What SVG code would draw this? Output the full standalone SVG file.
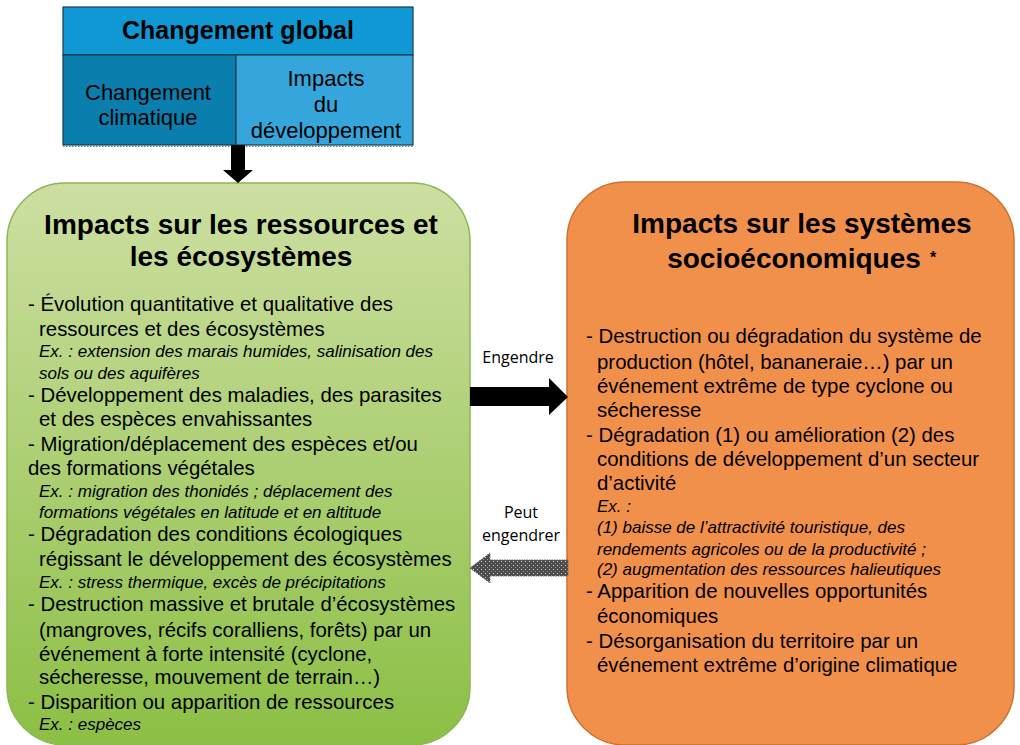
<svg xmlns="http://www.w3.org/2000/svg" width="1020" height="745" viewBox="0 0 1020 745">
<defs>
<linearGradient id="gGreen" x1="0" y1="0" x2="0" y2="1">
<stop offset="0" stop-color="#CDDFA2"/>
<stop offset="1" stop-color="#8CBF45"/>
</linearGradient>
<pattern id="dots" width="4" height="4" patternUnits="userSpaceOnUse">
<rect width="4" height="4" fill="#4A4A4A"/>
<rect x="1" y="1" width="1" height="1" fill="#D8D8D8"/>
<rect x="3" y="3" width="1" height="1" fill="#9A9A9A"/>
</pattern>
<style>
.t{font-family:"Liberation Sans",Arial,sans-serif;fill:#000}
.hd{font-weight:bold;font-size:28px}
.b{font-size:20.4px}
.i{font-size:17px;font-style:italic}
.top{font-size:22px}
.lbl{font-family:"Open Sans","DejaVu Sans",sans-serif;font-size:16px;fill:#000}
</style>
</defs>
<rect width="1020" height="745" fill="#fff"/>

<g id="changement-global">
<rect x="63" y="7" width="350" height="48" fill="#0F98D3" stroke="#1B3B4C" stroke-width="1.2"/>
<text class="t" x="238" y="39" text-anchor="middle" font-weight="bold" font-size="25">Changement global</text>
</g>
<g id="changement-climatique">
<rect x="63" y="55" width="173" height="90" fill="#0A7EAC" stroke="#1B3B4C" stroke-width="1.2"/>
<text class="t top" x="148" y="100" text-anchor="middle">Changement</text>
<text class="t top" x="148" y="125" text-anchor="middle">climatique</text>
</g>
<g id="impacts-developpement">
<rect x="236" y="55" width="177" height="90" fill="#35A6DC" stroke="#1B3B4C" stroke-width="1.2"/>
<text class="t top" x="326" y="86" text-anchor="middle">Impacts</text>
<text class="t top" x="326" y="112" text-anchor="middle">du</text>
<text class="t top" x="326" y="138" text-anchor="middle">développement</text>
</g>
<line x1="63" y1="146.5" x2="413" y2="146.5" stroke="#777" stroke-width="1.2" stroke-dasharray="1.5 1.5"/>

<g id="ressources-ecosystemes">
<rect x="7" y="183" width="463" height="562" rx="58" fill="url(#gGreen)" stroke="#8DB654" stroke-width="1.5"/>
<text class="t hd" x="241" y="234" text-anchor="middle">Impacts sur les ressources et</text>
<text class="t hd" x="241" y="266" text-anchor="middle">les écosystèmes</text>
<text class="t b" x="28" y="311">-  Évolution quantitative et qualitative des</text>
<text class="t b" x="39" y="336">ressources et des écosystèmes</text>
<text class="t i" x="39" y="357">Ex. : extension des marais humides, salinisation des</text>
<text class="t i" x="39" y="379">sols ou des aquifères</text>
<text class="t b" x="28" y="402">-  Développement des maladies, des parasites</text>
<text class="t b" x="39" y="426">et des espèces envahissantes</text>
<text class="t b" x="28" y="451">-  Migration/déplacement des espèces et/ou</text>
<text class="t b" x="28" y="475">des formations végétales</text>
<text class="t i" x="39" y="497">Ex. : migration des thonidés ; déplacement des</text>
<text class="t i" x="39" y="518">formations végétales en latitude et en altitude</text>
<text class="t b" x="28" y="541">- Dégradation des conditions écologiques</text>
<text class="t b" x="39" y="566">régissant le développement des écosystèmes</text>
<text class="t i" x="39" y="588">Ex. : stress thermique, excès de précipitations</text>
<text class="t b" x="28" y="611">-  Destruction massive et brutale d’écosystèmes</text>
<text class="t b" x="39" y="637">(mangroves, récifs coralliens, forêts) par un</text>
<text class="t b" x="39" y="661">événement à forte intensité (cyclone,</text>
<text class="t b" x="39" y="684">sécheresse, mouvement de terrain…)</text>
<text class="t b" x="28" y="709">-  Disparition ou apparition de ressources</text>
<text class="t i" x="39" y="730">Ex. : espèces</text>
</g>

<g id="systemes-socioeconomiques">
<rect x="567" y="182" width="447" height="563" rx="58" fill="#F0904B" stroke="#CB7233" stroke-width="1.5"/>
<text class="t hd" x="802" y="233" text-anchor="middle">Impacts sur les systèmes</text>
<text class="t hd" x="794" y="268" text-anchor="middle">socioéconomiques</text>
<text class="t" x="930" y="263" font-size="16" font-weight="bold">*</text>
<text class="t b" x="586" y="343">-  Destruction ou dégradation du système de</text>
<text class="t b" x="597" y="369">production (hôtel, bananeraie…) par un</text>
<text class="t b" x="597" y="393">événement extrême de type cyclone ou</text>
<text class="t b" x="597" y="417">sécheresse</text>
<text class="t b" x="586" y="442">-  Dégradation (1) ou amélioration (2) des</text>
<text class="t b" x="597" y="466">conditions de développement d’un secteur</text>
<text class="t b" x="597" y="490">d’activité</text>
<text class="t i" x="597" y="512">Ex. :</text>
<text class="t i" x="597" y="533">(1) baisse de l’attractivité touristique, des</text>
<text class="t i" x="597" y="555">rendements agricoles ou de la productivité ;</text>
<text class="t i" x="597" y="575">(2) augmentation des ressources halieutiques</text>
<text class="t b" x="586" y="598">-  Apparition de nouvelles opportunités</text>
<text class="t b" x="597" y="623">économiques</text>
<text class="t b" x="586" y="648">-  Désorganisation du territoire par un</text>
<text class="t b" x="597" y="672">événement extrême d’origine climatique</text>
</g>

<g id="connectors">
<polygon points="231,145 245,145 245,170 253,170 238,183 223,170 231,170" fill="#000"/>
<polygon points="470,387 549,387 549,378 568,397 549,415 549,406 470,406" fill="#000"/>
<text class="lbl" x="518" y="363" text-anchor="middle">Engendre</text>
<polygon points="568,560 490,560 490,553 470,568 490,583 490,576 568,576" fill="url(#dots)" stroke="#666" stroke-width="1" stroke-dasharray="1.5 1"/>
<text class="lbl" x="521" y="518" text-anchor="middle">Peut</text>
<text class="lbl" x="521" y="541" text-anchor="middle">engendrer</text>
</g>
</svg>
